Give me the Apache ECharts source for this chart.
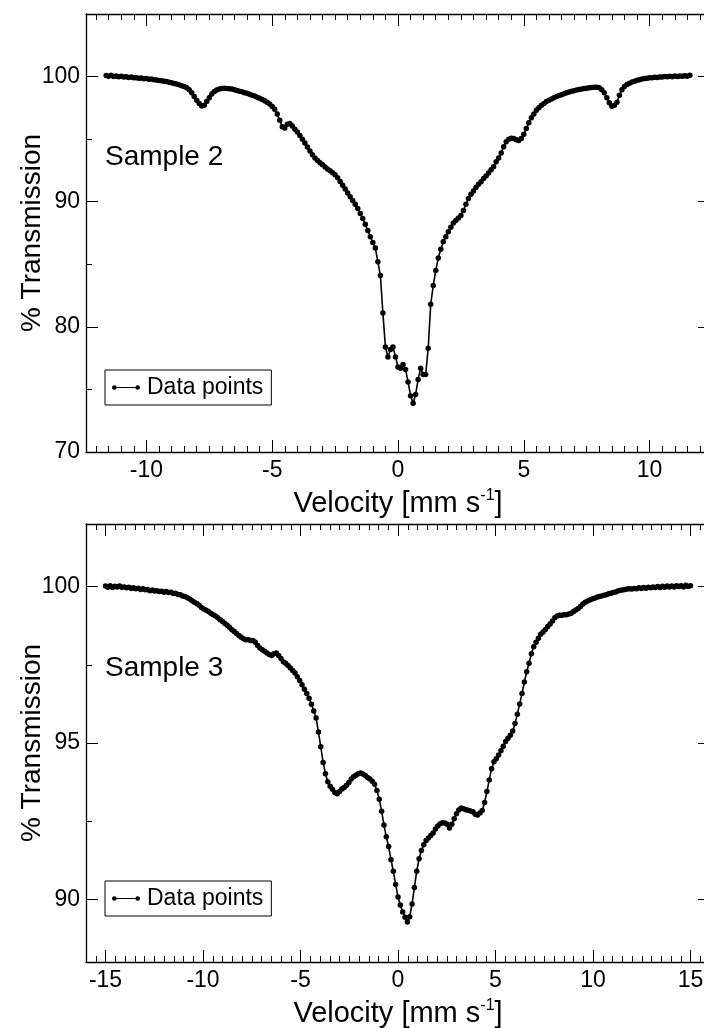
<!DOCTYPE html>
<html>
<head>
<meta charset="utf-8">
<script src="https://cdn.jsdelivr.net/npm/echarts@6/dist/echarts.min.js"></script>
<style>
html,body{margin:0;padding:0;background:#fff;}
#chart{width:704px;height:1028px;}
</style>
</head>
<body>
<div id="chart"></div>
<script>
// ---------------- DATA ----------------
const seriesName = 'Data points';
const panelLabels = ['Sample 2', 'Sample 3'];

// Sample 2: velocity channels start / step (mm/s), transmission (%)
const s2VelStart = -11.6;
const s2VelStep = 0.1;
const s2Trans = [
  100.08, 100.02, 100.1, 100.0, 100.05, 99.98, 100.03, 99.96, 99.99, 99.93,
  99.96, 99.9, 99.91, 99.86, 99.88, 99.83, 99.84, 99.79, 99.8, 99.75,
  99.73, 99.69, 99.66, 99.62, 99.6, 99.55, 99.5, 99.45, 99.4, 99.34,
  99.27, 99.2, 99.1, 98.95, 98.7, 98.4, 98.1, 97.85, 97.65, 97.7,
  98.0, 98.3, 98.6, 98.8, 98.92, 99.0, 99.05, 99.07, 99.04, 99.03,
  99.0, 98.95, 98.89, 98.83, 98.78, 98.71, 98.66, 98.58, 98.51, 98.44,
  98.35, 98.26, 98.16, 98.06, 97.95, 97.8, 97.6, 97.38, 97.0, 96.5,
  96.0, 95.9, 96.2, 96.25, 96.05, 95.8, 95.58, 95.3, 95.0, 94.7,
  94.38, 94.05, 93.75, 93.5, 93.3, 93.12, 92.95, 92.78, 92.62, 92.48,
  92.32, 92.15, 91.92, 91.62, 91.32, 91.02, 90.7, 90.4, 90.1, 89.8,
  89.45, 89.05, 88.65, 88.2, 87.7, 87.2, 86.75, 86.3, 85.2, 84.1,
  81.1, 78.4, 77.6, 78.2, 78.4, 77.6, 76.8, 76.7, 77.0, 76.6,
  75.6, 74.5, 73.9, 74.6, 75.8, 76.7, 76.2, 76.2, 78.3, 81.8,
  83.3, 84.5, 85.5, 86.2, 86.8, 87.2, 87.6, 87.95, 88.3, 88.5,
  88.7, 88.9, 89.3, 89.8, 90.25, 90.6, 90.85, 91.15, 91.4, 91.6,
  91.85, 92.05, 92.3, 92.55, 92.8, 93.2, 93.5, 93.9, 94.4, 94.8,
  95.0, 95.07, 95.05, 94.95, 94.9, 95.05, 95.4, 95.85, 96.3, 96.7,
  97.0, 97.3, 97.5, 97.7, 97.85, 98.0, 98.1, 98.2, 98.3, 98.4,
  98.48, 98.55, 98.62, 98.7, 98.76, 98.82, 98.87, 98.92, 98.96, 99.0,
  99.04, 99.07, 99.1, 99.12, 99.15, 99.15, 99.1, 98.95, 98.7, 98.3,
  97.9, 97.62, 97.7, 97.95, 98.5, 98.95, 99.2, 99.37, 99.47, 99.56,
  99.63, 99.7, 99.75, 99.8, 99.84, 99.87, 99.9, 99.91, 99.94, 99.93,
  99.97, 99.96, 100.0, 99.98, 100.02, 99.99, 100.04, 100.01, 100.05, 100.02,
  100.07, 100.03, 100.1
];

// Sample 3
const s3VelStart = -15;
const s3VelStep = 0.12;
const s3Trans = [
  100.02, 99.98, 100.03, 99.97, 100.01, 99.99, 100.02, 99.98, 99.99, 99.96,
  99.98, 99.94, 99.96, 99.93, 99.95, 99.91, 99.93, 99.9, 99.91, 99.87,
  99.89, 99.86, 99.87, 99.84, 99.85, 99.82, 99.84, 99.81, 99.82, 99.78,
  99.79, 99.75, 99.74, 99.7, 99.68, 99.64, 99.6, 99.55, 99.5, 99.46,
  99.4, 99.33, 99.28, 99.24, 99.2, 99.15, 99.1, 99.06, 99.0, 98.94,
  98.88, 98.82, 98.76, 98.7, 98.62, 98.56, 98.5, 98.44, 98.38, 98.33,
  98.3, 98.3, 98.28, 98.28, 98.22, 98.12, 98.04, 97.98, 97.93, 97.88,
  97.83, 97.8, 97.85, 97.88, 97.8, 97.7, 97.6, 97.55, 97.48, 97.4,
  97.32, 97.24, 97.12, 97.0, 96.86, 96.72, 96.58, 96.43, 96.24, 96.02,
  95.8, 95.35, 94.88, 94.38, 94.02, 93.76, 93.62, 93.52, 93.42, 93.38,
  93.45, 93.53, 93.58, 93.65, 93.74, 93.85, 93.92, 93.97, 94.02, 94.04,
  94.01, 93.96, 93.9, 93.85, 93.78, 93.68, 93.48, 93.2, 92.82, 92.38,
  92.0, 91.69, 91.27, 90.9, 90.48, 90.08, 89.82, 89.6, 89.43, 89.28,
  89.45, 89.85, 90.38, 90.9, 91.3, 91.56, 91.75, 91.88, 91.96, 92.04,
  92.12, 92.25, 92.35, 92.42, 92.45, 92.44, 92.4, 92.28, 92.4, 92.58,
  92.74, 92.86, 92.92, 92.9, 92.87, 92.85, 92.83, 92.8, 92.72, 92.7,
  92.76, 92.84, 93.1, 93.45, 93.82, 94.18, 94.4, 94.5, 94.62, 94.75,
  94.9, 95.05, 95.15, 95.25, 95.38, 95.62, 95.92, 96.25, 96.58, 96.95,
  97.28, 97.55, 97.85, 98.08, 98.22, 98.35, 98.48, 98.55, 98.63, 98.72,
  98.8, 98.9, 99.0, 99.06, 99.08, 99.08, 99.1, 99.1, 99.12, 99.15,
  99.2, 99.25, 99.3, 99.36, 99.44, 99.5, 99.54, 99.57, 99.6, 99.63,
  99.66, 99.68, 99.7, 99.72, 99.74, 99.77, 99.79, 99.81, 99.83, 99.86,
  99.88, 99.89, 99.91, 99.92, 99.93, 99.92, 99.94, 99.93, 99.96, 99.94,
  99.97, 99.95, 99.98, 99.96, 99.99, 99.97, 100.0, 99.97, 100.01, 99.98,
  100.02, 99.99, 100.02, 99.99, 100.03, 100.0, 100.03, 99.99, 100.04, 100.0,
  100.03
];

// Axis ranges and tick labels
const s2XRange = [-12.4, 12.4];
const s2YRange = [70, 105];
const s2XMajor = [-10, -5, 0, 5, 10];
const s2YLabels = [70, 80, 90, 100];
const s2YMinor = [75, 85, 95];

const s3XRange = [-16, 16];
const s3YRange = [88, 102];
const s3XMajor = [-15, -10, -5, 0, 5, 10, 15];
const s3YLabels = [90, 95, 100];
const s3YMinor = [92.5, 97.5];

const xMinorStep = 0.5;

// ---------------- BUILD ----------------
const FONT = '"Liberation Sans", Arial, Helvetica, sans-serif';
function minorTicks(range, step, majors) {
  const out = [];
  const start = Math.ceil(range[0] / step) * step;
  for (let v = start; v <= range[1] + 1e-9; v += step) {
    const r = Math.round(v * 1000) / 1000;
    if (r <= range[0] || r >= range[1]) continue;
    if (majors.some(m => Math.abs(m - r) < 1e-6)) continue;
    out.push(r);
  }
  return out;
}
function toPairs(start, step, arr) {
  return arr.map((t, i) => [Math.round((start + i * step) * 1000) / 1000, t]);
}

const lineCol = '#000';
const axisLineStyle = { color: lineCol, width: 1.3 };
const tickStyle = { color: lineCol, width: 1 };

function xAxes(g, range, majors) {
  const minors = minorTicks(range, xMinorStep, majors);
  const base = { gridIndex: g, type: 'value', min: range[0], max: range[1], splitLine: { show: false } };
  return [
    Object.assign({}, base, {
      position: 'bottom',
      axisLine: { show: true, onZero: false, lineStyle: axisLineStyle },
      axisTick: { show: true, inside: true, length: 12, customValues: majors, lineStyle: tickStyle },
      axisLabel: { show: true, customValues: majors, margin: 7, fontSize: 23, color: '#000', fontFamily: FONT },
      name: 'Velocity [mm s{sup|-1}]',
      nameLocation: 'middle',
      nameGap: 36,
      nameMoveOverlap: false,
      nameTextStyle: {
        fontSize: 29, color: '#000', fontFamily: FONT, lineHeight: 32,
        rich: { sup: { fontSize: 16, color: '#000', fontFamily: FONT, verticalAlign: 'top', lineHeight: 14 } }
      }
    }),
    Object.assign({}, base, {
      position: 'top',
      axisLine: { show: true, onZero: false, lineStyle: axisLineStyle },
      axisTick: { show: true, inside: true, length: 12, customValues: majors, lineStyle: tickStyle },
      axisLabel: { show: false }
    }),
    Object.assign({}, base, {
      position: 'bottom',
      axisLine: { show: false, onZero: false },
      axisTick: { show: true, inside: true, length: 6, customValues: minors, lineStyle: tickStyle },
      axisLabel: { show: false }
    }),
    Object.assign({}, base, {
      position: 'top',
      axisLine: { show: false, onZero: false },
      axisTick: { show: true, inside: true, length: 6, customValues: minors, lineStyle: tickStyle },
      axisLabel: { show: false }
    })
  ];
}
function yAxes(g, range, labels, minors) {
  const base = { gridIndex: g, type: 'value', min: range[0], max: range[1], splitLine: { show: false } };
  return [
    Object.assign({}, base, {
      position: 'left',
      axisLine: { show: true, onZero: false, lineStyle: axisLineStyle },
      axisTick: { show: true, inside: true, length: 12, customValues: labels, lineStyle: tickStyle },
      axisLabel: { show: true, customValues: labels, margin: 6, fontSize: 23, color: '#000', fontFamily: FONT },
      name: '% Transmission',
      nameLocation: 'middle',
      nameGap: 40,
      nameMoveOverlap: false,
      nameTextStyle: { fontSize: 28, color: '#000', fontFamily: FONT }
    }),
    Object.assign({}, base, {
      position: 'right',
      axisLine: { show: true, onZero: false, lineStyle: axisLineStyle },
      axisTick: { show: true, inside: true, length: 12, customValues: labels, lineStyle: tickStyle },
      axisLabel: { show: false }
    }),
    Object.assign({}, base, {
      position: 'left',
      axisLine: { show: false, onZero: false },
      axisTick: { show: true, inside: true, length: 6, customValues: minors, lineStyle: tickStyle },
      axisLabel: { show: false }
    }),
    Object.assign({}, base, {
      position: 'right',
      axisLine: { show: false, onZero: false },
      axisTick: { show: true, inside: true, length: 6, customValues: minors, lineStyle: tickStyle },
      axisLabel: { show: false }
    })
  ];
}

const legendIcon = 'path://M0,3a3,3 0 1,1 6,0a3,3 0 1,1 -6,0Z M3,2.3H33V3.7H3Z M30,3a3,3 0 1,1 6,0a3,3 0 1,1 -6,0Z';
function legendAt(top) {
  return {
    left: 105, top: top, orient: 'horizontal',
    data: [{ name: seriesName, icon: legendIcon }],
    itemWidth: 28, itemHeight: 5,
    borderColor: '#000', borderWidth: 1, borderRadius: 0,
    padding: [6, 8, 6, 7],
    selectedMode: false,
    textStyle: { fontSize: 23, color: '#000', fontFamily: FONT, padding: [0, 0, 0, 2] }
  };
}
function seriesFor(xi, yi, data) {
  return {
    name: seriesName, type: 'line', xAxisIndex: xi, yAxisIndex: yi,
    data: data, symbol: 'circle', symbolSize: 5.5, showSymbol: true,
    lineStyle: { color: '#000', width: 1.6 },
    itemStyle: { color: '#000' },
    emphasis: { disabled: true },
    animation: false, clip: true
  };
}

const option = {
  animation: false,
  backgroundColor: '#fff',
  grid: [
    { left: 86, top: 14, width: 624, height: 438, outerBoundsMode: 'none', containLabel: false },
    { left: 86, top: 524, width: 624, height: 438, outerBoundsMode: 'none', containLabel: false }
  ],
  title: [
    { text: panelLabels[0], left: 105, top: 143, padding: 0, textStyle: { fontSize: 28, fontWeight: 'normal', color: '#000', fontFamily: FONT } },
    { text: panelLabels[1], left: 105, top: 654, padding: 0, textStyle: { fontSize: 28, fontWeight: 'normal', color: '#000', fontFamily: FONT } }
  ],
  legend: [legendAt(370), legendAt(881)],
  xAxis: [].concat(xAxes(0, s2XRange, s2XMajor), xAxes(1, s3XRange, s3XMajor)),
  yAxis: [].concat(yAxes(0, s2YRange, s2YLabels, s2YMinor), yAxes(1, s3YRange, s3YLabels, s3YMinor)),
  series: [
    seriesFor(0, 0, toPairs(s2VelStart, s2VelStep, s2Trans)),
    seriesFor(4, 4, toPairs(s3VelStart, s3VelStep, s3Trans))
  ]
};

const chart = echarts.init(document.getElementById('chart'), null, { renderer: 'canvas' });
chart.setOption(option);
</script>
</body>
</html>
